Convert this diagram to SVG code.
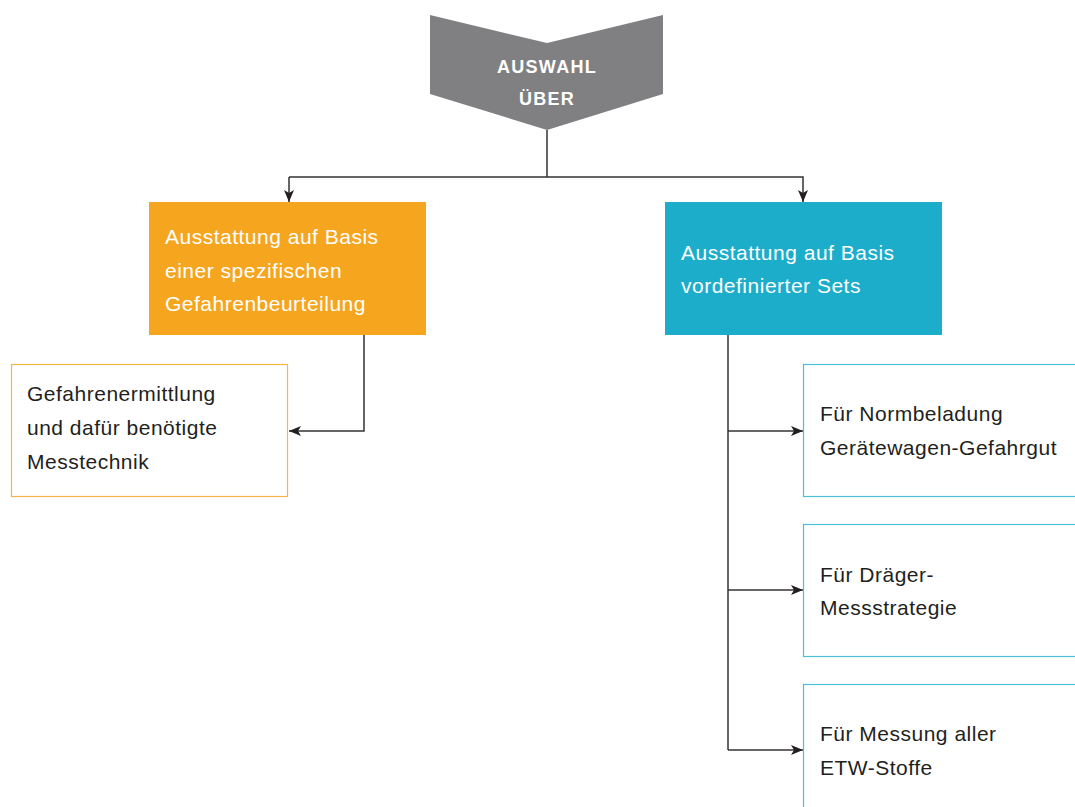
<svg xmlns="http://www.w3.org/2000/svg" width="1075" height="807" viewBox="0 0 1075 807">
  <style>
    .t { font-family: "Liberation Sans", Arial, sans-serif; font-size: 21px; letter-spacing: 0.5px; }
    .w { fill: #ffffff; }
    .d { fill: #231f20; }
    .h { font-family: "Liberation Sans", Arial, sans-serif; font-size: 18px; font-weight: bold; fill: #ffffff; text-anchor: middle; letter-spacing: 1.3px; }
    .conn { fill: none; stroke: #333333; stroke-width: 1.5; }
  </style>
  <defs>
    <marker id="arr" viewBox="0 0 12 10" refX="12" refY="5" markerWidth="12" markerHeight="10" markerUnits="userSpaceOnUse" orient="auto">
      <path d="M0,0 L12,5 L0,10 L3,5 Z" fill="#231f20"/>
    </marker>
  </defs>
  <rect width="1075" height="807" fill="#ffffff"/>

  <g id="connectors">
    <path class="conn" d="M547,130 V177"/>
    <path class="conn" d="M289,177 H803 V202" marker-end="url(#arr)"/>
    <path class="conn" d="M289,177 V202" marker-end="url(#arr)"/>
    <path class="conn" d="M364,335 V431 H289" marker-end="url(#arr)"/>
    <path class="conn" d="M728,335 V750"/>
    <path class="conn" d="M728,431 H803" marker-end="url(#arr)"/>
    <path class="conn" d="M728,590 H803" marker-end="url(#arr)"/>
    <path class="conn" d="M728,750 H803" marker-end="url(#arr)"/>
  </g>

  <g id="auswahl">
    <polygon points="430,15 547,43 663,15 663,94 547,130 430,94" fill="#808083"/>
    <text class="h" x="547" y="73">AUSWAHL</text>
    <text class="h" x="547" y="105">ÜBER</text>
  </g>

  <g id="gefahrenbeurteilung">
    <rect x="149" y="202" width="277" height="133" fill="#f6a51e"/>
    <text class="t w" x="165" y="244">Ausstattung auf Basis</text>
    <text class="t w" x="165" y="278">einer spezifischen</text>
    <text class="t w" x="165" y="311">Gefahrenbeurteilung</text>
  </g>

  <g id="gefahrenermittlung">
    <rect x="11.5" y="364.5" width="276" height="132" fill="#ffffff" stroke="#f6b34a" stroke-width="1.2"/>
    <text class="t d" x="27" y="401">Gefahrenermittlung</text>
    <text class="t d" x="27" y="435">und dafür benötigte</text>
    <text class="t d" x="27" y="469">Messtechnik</text>
  </g>

  <g id="sets">
    <rect x="665" y="202" width="277" height="133" fill="#1cadcb"/>
    <text class="t w" x="681" y="260">Ausstattung auf Basis</text>
    <text class="t w" x="681" y="293">vordefinierter Sets</text>
  </g>

  <g id="normbeladung">
    <rect x="803.5" y="364.5" width="280" height="132" fill="#ffffff" stroke="#4cc0da" stroke-width="1.2"/>
    <text class="t d" x="820" y="421">Für Normbeladung</text>
    <text class="t d" x="820" y="455">Gerätewagen-Gefahrgut</text>
  </g>

  <g id="messstrategie">
    <rect x="803.5" y="524.5" width="280" height="132" fill="#ffffff" stroke="#4cc0da" stroke-width="1.2"/>
    <text class="t d" x="820" y="582">Für Dräger-</text>
    <text class="t d" x="820" y="615">Messstrategie</text>
  </g>

  <g id="etw-stoffe">
    <rect x="803.5" y="684.5" width="280" height="140" fill="#ffffff" stroke="#4cc0da" stroke-width="1.2"/>
    <text class="t d" x="820" y="741">Für Messung aller</text>
    <text class="t d" x="820" y="775">ETW-Stoffe</text>
  </g>
</svg>
